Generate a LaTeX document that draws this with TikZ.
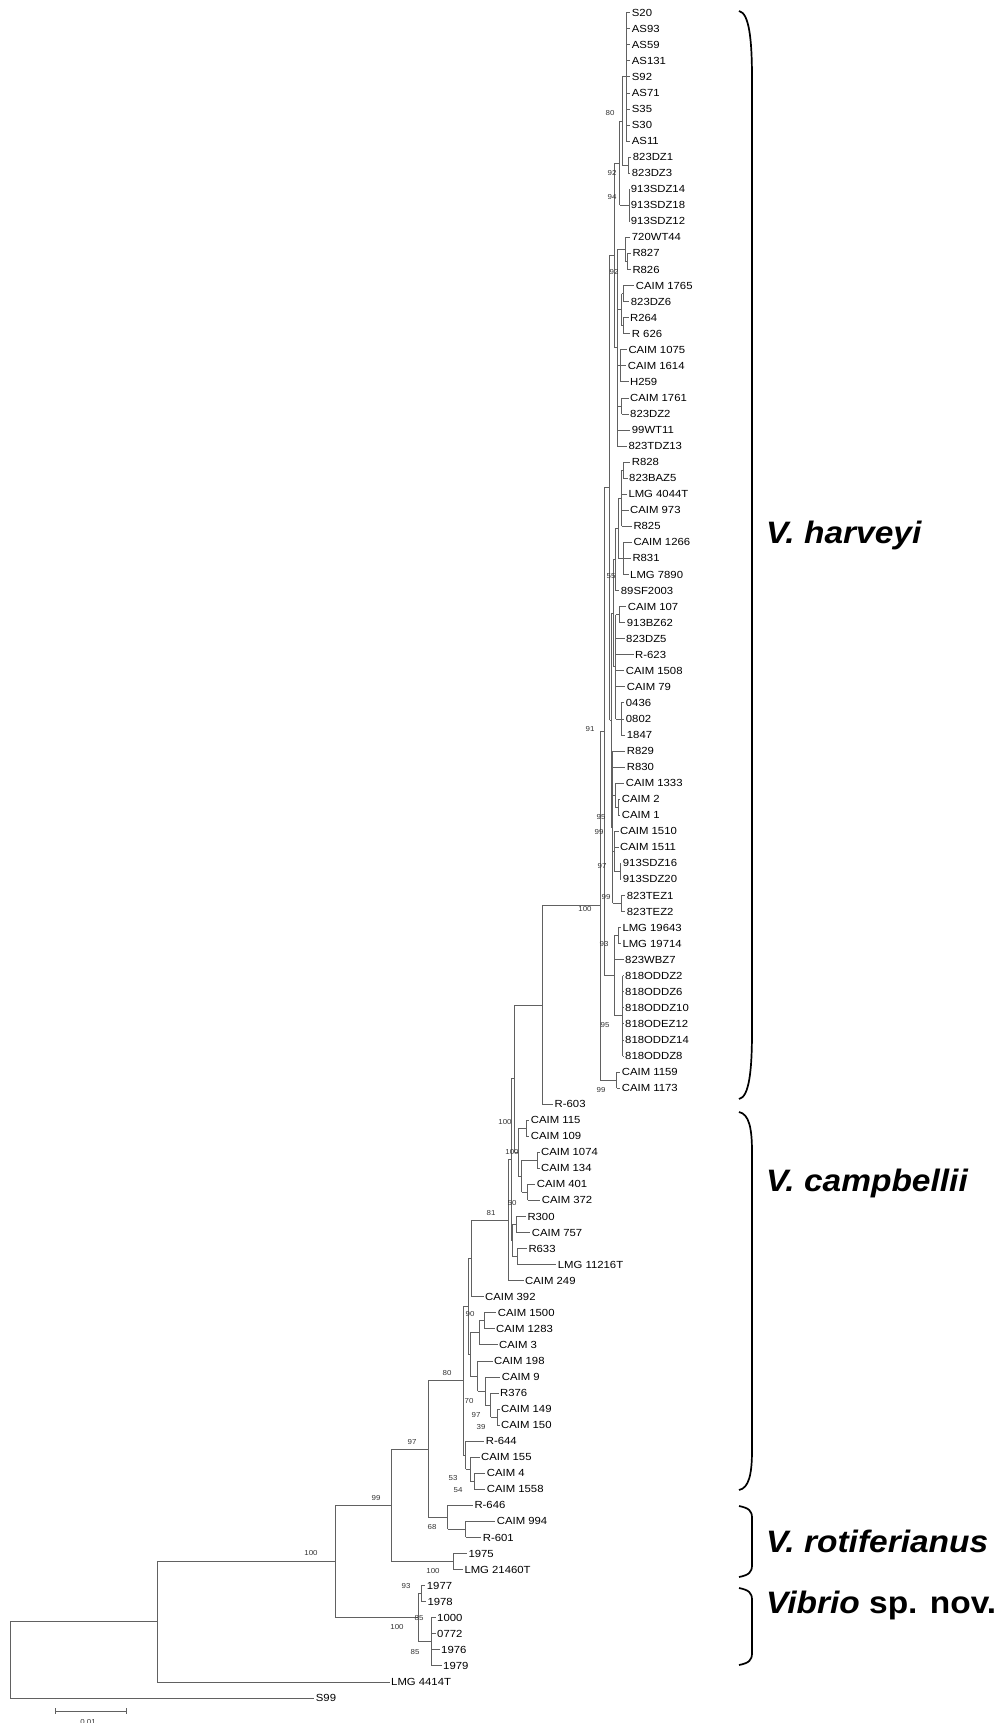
\documentclass[tikz,border=0pt]{standalone}
\usepackage{fontspec}
\setmainfont{Liberation Sans}
\newfontfamily\labfont[FakeStretch=1.1]{Liberation Sans}
\newfontfamily\spfont[FakeStretch=1.08]{Liberation Sans}
\usetikzlibrary{calc}
\tikzset{
  br/.style={draw=black!62, line width=0.8pt},
  leaf/.style={anchor=west, inner xsep=1.5pt, inner ysep=0pt, font=\labfont\fontsize{10.3}{10.3}\selectfont},
  bs/.style={inner sep=0pt, text=black!80, font=\labfont\fontsize{7.2}{7.2}\selectfont},
  splab/.style={anchor=base west, inner sep=0pt, font=\spfont\fontsize{31}{31}\selectfont\bfseries},
  brc/.style={draw=black, line width=1.7pt},
}
\newcommand\lf[4]{%
  \coordinate (#1) at (#2,{12.7+(#3-1)*16.05});
  \node[leaf] (t#1) at (#1) {#4};}
\newcommand\cl[3]{%
  \foreach \c [count=\i] in {#3} {\ifnum\i=1 \xdef\firstc{\c}\fi \xdef\lastc{\c}}%
  \path let \p1=(\firstc), \p2=(\lastc) in coordinate (#1) at (#2pt,{0.5*(\y1+\y2)});
  \draw[br] (#1 |- \firstc) -- (#1 |- \lastc);
  \foreach \c in {#3} {\draw[br] (#1 |- \c) -- (\c);}%
}
\newcommand\bsl[4]{\node[bs] (#1) at (#2,#3) {#4};}
\newcommand\sbrace[3]{%
  \draw[brc] (739,#1) .. controls (749,#1+2) and (752,#1+#3*0.4) .. (752,#1+#3) -- (752,#2-#3)
    .. controls (752,#2-#3*0.4) and (749,#2-2) .. (739,#2);}
\begin{document}
\begin{tikzpicture}[x=1pt,y=-1pt]
\useasboundingbox (0,0) rectangle (1007,1723);
% ---------- leaves ----------
\lf{L1}{630.2}{1}{S20}
\lf{L2}{630.2}{2}{AS93}
\lf{L3}{630.2}{3}{AS59}
\lf{L4}{630.2}{4}{AS131}
\lf{L5}{630.2}{5}{S92}
\lf{L6}{630.2}{6}{AS71}
\lf{L7}{630.2}{7}{S35}
\lf{L8}{630.2}{8}{S30}
\lf{L9}{630.2}{9}{AS11}
\lf{L10}{631.2}{10}{823DZ1}
\lf{L11}{630.2}{11}{823DZ3}
\lf{L12}{629.2}{12}{913SDZ14}
\lf{L13}{629.2}{13}{913SDZ18}
\lf{L14}{629.2}{14}{913SDZ12}
\lf{L15}{630.2}{15}{720WT44}
\lf{L16}{630.8}{16}{R827}
\lf{L17}{630.8}{17}{R826}
\lf{L18}{634.2}{18}{CAIM 1765}
\lf{L19}{629.2}{19}{823DZ6}
\lf{L20}{628.5}{20}{R264}
\lf{L21}{630.2}{21}{R 626}
\lf{L22}{626.8}{22}{CAIM 1075}
\lf{L23}{626.2}{23}{CAIM 1614}
\lf{L24}{628.5}{24}{H259}
\lf{L25}{628.5}{25}{CAIM 1761}
\lf{L26}{628.5}{26}{823DZ2}
\lf{L27}{630.2}{27}{99WT11}
\lf{L28}{626.8}{28}{823TDZ13}
\lf{L29}{630.2}{29}{R828}
\lf{L30}{627.5}{30}{823BAZ5}
\lf{L31}{626.8}{31}{LMG 4044T}
\lf{L32}{628.5}{32}{CAIM 973}
\lf{L33}{631.8}{33}{R825}
\lf{L34}{631.8}{34}{CAIM 1266}
\lf{L35}{630.8}{35}{R831}
\lf{L36}{628.5}{36}{LMG 7890}
\lf{L37}{619.2}{37}{89SF2003}
\lf{L38}{626.2}{38}{CAIM 107}
\lf{L39}{625.2}{39}{913BZ62}
\lf{L40}{624.5}{40}{823DZ5}
\lf{L41}{633.5}{41}{R-623}
\lf{L42}{624.2}{42}{CAIM 1508}
\lf{L43}{625.2}{43}{CAIM 79}
\lf{L44}{624.2}{44}{0436}
\lf{L45}{624.2}{45}{0802}
\lf{L46}{625.2}{46}{1847}
\lf{L47}{625.2}{47}{R829}
\lf{L48}{625.2}{48}{R830}
\lf{L49}{624.2}{49}{CAIM 1333}
\lf{L50}{620.2}{50}{CAIM 2}
\lf{L51}{620.2}{51}{CAIM 1}
\lf{L52}{618.5}{52}{CAIM 1510}
\lf{L53}{618.5}{53}{CAIM 1511}
\lf{L54}{621.2}{54}{913SDZ16}
\lf{L55}{621.2}{55}{913SDZ20}
\lf{L56}{625.2}{56}{823TEZ1}
\lf{L57}{625.2}{57}{823TEZ2}
\lf{L58}{620.8}{58}{LMG 19643}
\lf{L59}{620.8}{59}{LMG 19714}
\lf{L60}{623.5}{60}{823WBZ7}
\lf{L61}{623.5}{61}{818ODDZ2}
\lf{L62}{623.5}{62}{818ODDZ6}
\lf{L63}{623.5}{63}{818ODDZ10}
\lf{L64}{623.5}{64}{818ODEZ12}
\lf{L65}{623.5}{65}{818ODDZ14}
\lf{L66}{623.5}{66}{818ODDZ8}
\lf{L67}{620.2}{67}{CAIM 1159}
\lf{L68}{620.2}{68}{CAIM 1173}
\lf{L69}{553}{69}{R-603}
\lf{L70}{529.2}{70}{CAIM 115}
\lf{L71}{529.2}{71}{CAIM 109}
\lf{L72}{539.5}{72}{CAIM 1074}
\lf{L73}{539.5}{73}{CAIM 134}
\lf{L74}{535.2}{74}{CAIM 401}
\lf{L75}{540.2}{75}{CAIM 372}
\lf{L76}{525.8}{76}{R300}
\lf{L77}{530.2}{77}{CAIM 757}
\lf{L78}{526.8}{78}{R633}
\lf{L79}{556.2}{79}{LMG 11216T}
\lf{L80}{523.5}{80}{CAIM 249}
\lf{L81}{483.5}{81}{CAIM 392}
\lf{L82}{496.2}{82}{CAIM 1500}
\lf{L83}{494.5}{83}{CAIM 1283}
\lf{L84}{497.5}{84}{CAIM 3}
\lf{L85}{492.5}{85}{CAIM 198}
\lf{L86}{500.2}{86}{CAIM 9}
\lf{L87}{498.5}{87}{R376}
\lf{L88}{499.5}{88}{CAIM 149}
\lf{L89}{499.5}{89}{CAIM 150}
\lf{L90}{484.2}{90}{R-644}
\lf{L91}{479.5}{91}{CAIM 155}
\lf{L92}{485.2}{92}{CAIM 4}
\lf{L93}{485.2}{93}{CAIM 1558}
\lf{L94}{472.8}{94}{R-646}
\lf{L95}{495.2}{95}{CAIM 994}
\lf{L96}{481.2}{96}{R-601}
\lf{L97}{466.8}{97}{1975}
\lf{L98}{462.8}{98}{LMG 21460T}
\lf{L99}{425.2}{99}{1977}
\lf{L100}{425.8}{100}{1978}
\lf{L101}{435.5}{101}{1000}
\lf{L102}{435.5}{102}{0772}
\lf{L103}{439.5}{103}{1976}
\lf{L104}{441.5}{104}{1979}
\lf{L105}{389.5}{105}{LMG 4414T}
\lf{L106}{314.2}{106}{S99}
% ---------- V. harveyi ----------
\cl{G1}{626}{L1,L2,L3,L4,L5,L6,L7,L8,L9}
\cl{G2}{628}{L10,L11}
\cl{N80}{622}{G1,G2}
\cl{G3}{629}{L12,L13,L14}
\cl{N92a}{619.5}{N80,G3}
\cl{G4b}{627}{L16,L17}
\cl{G4}{625}{L15,G4b}
\cl{G5a}{623.3}{L18,L19}
\cl{G5b}{623.3}{L20,L21}
\cl{G5}{621.7}{G5a,G5b}
\cl{G6}{620}{L22,L23,L24}
\cl{G7}{621.7}{L25,L26}
\cl{N92b}{617}{G4,G5,G6,G7,L27,L28}
\cl{HU}{614}{N92a,N92b}
\cl{M1a}{623.3}{L29,L30}
\cl{MA1a}{621.7}{M1a,L31,L32,L33}
\cl{MA2}{623.3}{L34,L35,L36}
\cl{MA1}{618.3}{MA1a,MA2}
\cl{MA}{615.7}{MA1,L37}
\cl{MB1}{619.3}{L38,L39}
\cl{MB2}{621}{L44,L45,L46}
\cl{MB}{615.7}{MB1,L40,L41,L42,L43,MB2}
\cl{HM}{613}{MA,MB}
\cl{LA1}{618.3}{L50,L51}
\cl{LA}{615}{L49,LA1}
\cl{LB2}{620}{L54,L55}
\cl{LB}{614}{L52,L53,LB2}
\cl{LC}{621.7}{L56,L57}
\cl{HB1}{612.5}{L47,L48,LA,LB,LC}
\cl{HMB}{611}{HM,HB1}
\cl{HA}{609.5}{HU,HMB}
\cl{LD1}{618.3}{L58,L59}
\cl{LD2}{622.7}{L61,L62,L63,L64,L65,L66}
\cl{LD}{614}{LD1,L60,LD2}
\cl{HT}{604}{HA,LD}
\cl{K1159}{616.7}{L67,L68}
\cl{H}{600}{HT,K1159}
\cl{HR}{542.3}{H,L69}
% ---------- V. campbellii ----------
\cl{C115}{526}{L70,L71}
\cl{C1074}{537}{L72,L73}
\cl{C401}{527.7}{L74,L75}
\cl{C1074b}{521.7}{C1074,C401}
\cl{CB}{518.3}{C115,C1074b}
\cl{P}{514.5}{HR,CB}
\cl{RA}{516}{L76,L77}
\cl{RB}{517.3}{L78,L79}
\cl{R300g}{512.7}{RA,RB}
\cl{X}{511}{P,R300g}
\cl{N50}{508.3}{X,L80}
\cl{Q}{471.7}{N50,L81}
\cl{K1500}{484.3}{L82,L83}
\cl{K90}{479.3}{K1500,L84}
\cl{K149}{497.3}{L88,L89}
\cl{KR}{490.7}{L87,K149}
\cl{K9}{485}{L86,KR}
\cl{K198}{477.7}{L85,K9}
\cl{K70}{470}{K90,K198}
\cl{Z}{468}{Q,K70}
\cl{K4}{474}{L92,L93}
\cl{K155}{470}{L91,K4}
\cl{K644}{465.7}{L90,K155}
\cl{C2}{463.3}{Z,K644}
% ---------- V. rotiferianus and rest ----------
\cl{ROT1}{465.7}{L95,L96}
\cl{ROT}{447.7}{L94,ROT1}
\cl{N97}{428.3}{C2,ROT}
\cl{V1975}{453.3}{L97,L98}
\cl{N99}{391.7}{N97,V1975}
\cl{V77}{421}{L99,L100}
\cl{V1000}{431.3}{L101,L102,L103,L104}
\cl{VSP}{418.3}{V77,V1000}
\cl{NB}{335.2}{N99,VSP}
\cl{NA}{157.3}{NB,L105}
\cl{ROOT}{10.3}{NA,L106}
% ---------- bootstrap values ----------
\bsl{b1}{610}{113}{80}
\bsl{b2}{612}{173}{92}
\bsl{b3}{612}{197}{94}
\bsl{b4}{614}{272}{92}
\bsl{b5}{611}{576}{55}
\bsl{b6}{590}{729}{91}
\bsl{b7}{601}{817}{95}
\bsl{b8}{599}{832}{99}
\bsl{b9}{602}{866}{97}
\bsl{b10}{606}{897}{99}
\bsl{b11}{585}{909}{100}
\bsl{b12}{604}{944}{93}
\bsl{b13}{605}{1025}{95}
\bsl{b14}{601}{1090}{99}
\bsl{b15}{505}{1122}{100}
\bsl{b16}{512}{1152}{100}
\bsl{b17}{512}{1203}{50}
\bsl{b18}{491}{1213}{81}
\bsl{b19}{470}{1314}{90}
\bsl{b20}{447}{1373}{80}
\bsl{b21}{469}{1401}{70}
\bsl{b22}{476}{1415}{97}
\bsl{b23}{481}{1427}{39}
\bsl{b24}{412}{1442}{97}
\bsl{b25}{453}{1478}{53}
\bsl{b26}{458}{1490}{54}
\bsl{b27}{376}{1498}{99}
\bsl{b28}{432}{1527}{68}
\bsl{b29}{311}{1553}{100}
\bsl{b30}{433}{1571}{100}
\bsl{b31}{406}{1586}{93}
\bsl{b32}{419}{1618}{85}
\bsl{b33}{397}{1627}{100}
\bsl{b34}{415}{1652}{85}
% ---------- scale bar ----------
\coordinate (sb1) at (55.5,1711);
\coordinate (sb2) at (126.3,1711);
\draw[br] (sb1) -- (sb2);
\draw[br] ($(sb1)+(0,-3)$) -- ($(sb1)+(0,3)$);
\draw[br] ($(sb2)+(0,-3)$) -- ($(sb2)+(0,3)$);
\node[bs, anchor=north] (sbl) at (88,1719.5) {0.01};
% ---------- braces and species ----------
\sbrace{11}{1099}{68}
\sbrace{1112}{1490}{40}
\sbrace{1506}{1577}{12}
\sbrace{1588}{1665}{12}
\node[splab] (sh) at (766,543) {\itshape V. harveyi};
\node[splab] (sc) at (766,1191) {\itshape V. campbellii};
\node[splab] (sr) at (766,1552) {\itshape V. rotiferianus};
\node[splab] (sv) at (766,1613) {\textit{Vibrio} sp. nov.};
\end{tikzpicture}
\end{document}
